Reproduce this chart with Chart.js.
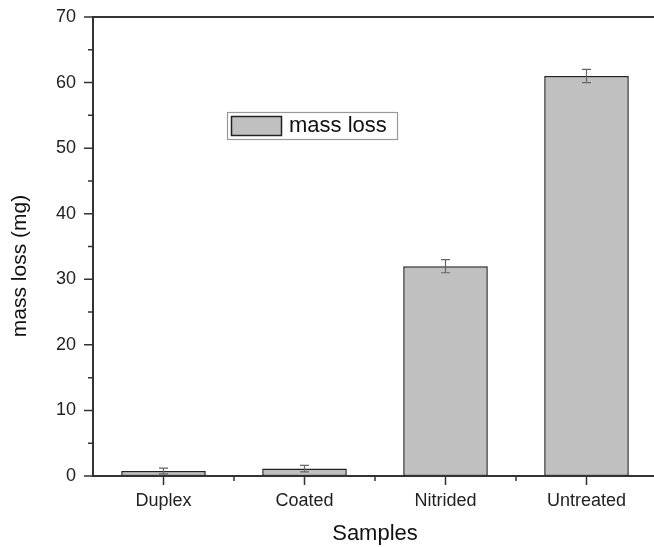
<!DOCTYPE html>
<html>
<head>
<meta charset="utf-8">
<script src="https://cdn.jsdelivr.net/npm/chart.js@4.4.1/dist/chart.umd.min.js"></script>
<style>
html,body{margin:0;padding:0;background:#fff;overflow:hidden;}
#wrap{width:664px;height:547px;position:relative;}
</style>
</head>
<body>
<div id="wrap"><canvas id="c" width="664" height="547"></canvas></div>
<script>
const categories = ['Duplex', 'Coated', 'Nitrided', 'Untreated'];
const massLoss = [0.76, 1.13, 32.0, 61.0];
const massLossErr = [0.45, 0.5, 1.0, 1.0];
const seriesLabel = 'mass loss';
const yTitle = 'mass loss (mg)';
const yTicksMajor = [0, 10, 20, 30, 40, 50, 60, 70];

const FONT = '"Liberation Sans", Arial, sans-serif';
const AXIS = '#333333';

const customDraw = {
  id: 'customDraw',
  afterDatasetsDraw(chart) {
    const ctx = chart.ctx;
    const x = chart.scales.x, y = chart.scales.y;
    const area = chart.chartArea;
    ctx.save();
    // error bars
    const meta = chart.getDatasetMeta(0);
    ctx.strokeStyle = '#666';
    ctx.lineWidth = 1.2;
    meta.data.forEach((bar, i) => {
      const cx = bar.x;
      const v = massLoss[i], e = massLossErr[i];
      const yt = y.getPixelForValue(v + e), yb = y.getPixelForValue(v - e);
      ctx.beginPath();
      ctx.moveTo(cx, yt); ctx.lineTo(cx, yb);
      ctx.moveTo(cx - 4.5, yt); ctx.lineTo(cx + 4.5, yt);
      ctx.moveTo(cx - 4.5, yb); ctx.lineTo(cx + 4.5, yb);
      ctx.stroke();
    });
    // axes frame
    ctx.strokeStyle = AXIS;
    ctx.lineWidth = 2;
    ctx.beginPath();
    ctx.moveTo(area.left, area.top); ctx.lineTo(chart.width, area.top);
    ctx.moveTo(area.left, area.top - 1); ctx.lineTo(area.left, area.bottom + 1);
    ctx.moveTo(area.left - 1, area.bottom); ctx.lineTo(chart.width, area.bottom);
    ctx.stroke();
    // y ticks (major + minor)
    ctx.lineWidth = 1.5;
    ctx.beginPath();
    y.ticks.forEach(t => {
      const py = y.getPixelForValue(t.value);
      const len = (t.value % 10 === 0) ? 9 : 5;
      ctx.moveTo(area.left - len, py); ctx.lineTo(area.left, py);
    });
    // x ticks: major at category centers, minor at boundaries
    categories.forEach((c, i) => {
      const px = x.getPixelForValue(i);
      ctx.moveTo(px, area.bottom); ctx.lineTo(px, area.bottom + 9);
      if (i > 0) {
        const bx = (x.getPixelForValue(i - 1) + px) / 2;
        ctx.moveTo(bx, area.bottom); ctx.lineTo(bx, area.bottom + 5);
      }
    });
    ctx.stroke();
    // y axis title
    ctx.save();
    ctx.translate(20, 266);
    ctx.rotate(-Math.PI / 2);
    ctx.fillStyle = '#111';
    ctx.font = '21px ' + FONT;
    ctx.textAlign = 'center';
    ctx.textBaseline = 'middle';
    ctx.fillText(yTitle, 0, 0);
    ctx.restore();
    // legend
    const lx = 227, ly = 112, lw = 170, lh = 27;
    ctx.strokeStyle = '#999';
    ctx.lineWidth = 1.2;
    ctx.fillStyle = '#fff';
    ctx.fillRect(lx, ly, lw, lh);
    ctx.strokeRect(lx + 0.5, ly + 0.5, lw, lh);
    ctx.fillStyle = '#c0c0c0';
    ctx.fillRect(231, 116, 51, 19);
    ctx.strokeStyle = '#222';
    ctx.lineWidth = 1.5;
    ctx.strokeRect(231.5, 116.5, 50, 19);
    ctx.fillStyle = '#111';
    ctx.font = '22px ' + FONT;
    ctx.textBaseline = 'middle';
    ctx.textAlign = 'left';
    ctx.fillText(chart.data.datasets[0].label, 289, 126);
    ctx.restore();
  }
};

new Chart(document.getElementById('c'), {
  type: 'bar',
  data: {
    labels: categories,
    datasets: [{
      label: seriesLabel,
      data: massLoss,
      backgroundColor: '#c0c0c0',
      borderColor: '#222',
      borderWidth: 1.5,
      borderSkipped: false,
      categoryPercentage: 1.0,
      barPercentage: 0.6
    }]
  },
  options: {
    responsive: false,
    animation: false,
    devicePixelRatio: 1,
    layout: { padding: { top: 17, right: 7, left: 0, bottom: 0 } },
    plugins: { legend: { display: false }, tooltip: { enabled: false } },
    scales: {
      x: {
        offset: true,
        grid: { display: false, drawTicks: false },
        border: { display: false },
        ticks: { color: '#222', font: { family: FONT, size: 18 }, padding: 14 },
        title: { display: true, text: 'Samples', color: '#111', font: { family: FONT, size: 22 }, padding: { top: 6, bottom: 0 } },
        afterFit: s => { s.height = 71; s.paddingLeft = 0; s.paddingRight = 0; }
      },
      y: {
        min: 0, max: 70,
        grid: { display: false, drawTicks: false },
        border: { display: false },
        ticks: {
          stepSize: 5,
          color: '#222',
          font: { family: FONT, size: 18 },
          padding: 17,
          callback: v => yTicksMajor.includes(v) ? String(v) : ''
        },
        title: { display: false },
        afterFit: s => { s.width = 93; s.paddingTop = 0; s.paddingBottom = 0; }
      }
    }
  },
  plugins: [customDraw]
});
</script>
</body>
</html>
